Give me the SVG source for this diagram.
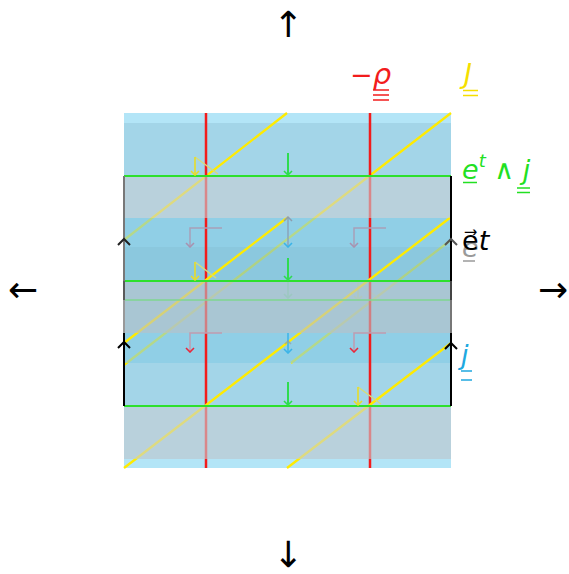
<svg xmlns="http://www.w3.org/2000/svg" width="569" height="574" viewBox="0 0 569 574">
<style>
.lbl{font-family:"DejaVu Sans",sans-serif;font-size:27px}
.it{font-style:italic}
.big{font-family:"DejaVu Sans",sans-serif;font-size:36px;fill:#000}
.red{stroke:#f21c1c;stroke-width:2.5}
.yel{stroke:#ffeb00;stroke-width:2.3}
.grn{stroke:#2de02d;stroke-width:2}
.thin{fill:none;stroke-width:1.5}
.chev{fill:none;stroke-width:2;stroke-linejoin:miter}
</style>
<defs>
<marker id="hG" viewBox="0 0 6 10" refX="5" refY="5" markerWidth="6" markerHeight="10" orient="auto" markerUnits="userSpaceOnUse"><path d="M1,1 L5,5 L1,9" fill="none" stroke="#2fdc50" stroke-width="1.6"/></marker>
<marker id="hY" viewBox="0 0 6 10" refX="5" refY="5" markerWidth="6" markerHeight="10" orient="auto" markerUnits="userSpaceOnUse"><path d="M1,1 L5,5 L1,9" fill="none" stroke="#e8dc28" stroke-width="1.6"/></marker>
<marker id="hP" viewBox="0 0 6 10" refX="5" refY="5" markerWidth="6" markerHeight="10" orient="auto" markerUnits="userSpaceOnUse"><path d="M1,1 L5,5 L1,9" fill="none" stroke="#a892b0" stroke-width="1.6"/></marker>
<marker id="hR" viewBox="0 0 6 10" refX="5" refY="5" markerWidth="6" markerHeight="10" orient="auto" markerUnits="userSpaceOnUse"><path d="M1,1 L5,5 L1,9" fill="none" stroke="#e8283c" stroke-width="1.6"/></marker>
<marker id="hB" viewBox="0 0 6 10" refX="5" refY="5" markerWidth="6" markerHeight="10" orient="auto" markerUnits="userSpaceOnUse"><path d="M1,1 L5,5 L1,9" fill="none" stroke="#3bb4e8" stroke-width="1.6"/></marker>
</defs>
<rect width="569" height="574" fill="#fff"/>
<g id="background">
<rect x="124" y="113" width="327" height="355" fill="#b3e5f7"/>
<rect x="124" y="123" width="327" height="336" fill="#a3d5e8"/>
</g>
<g id="back-layer">
<line class="yel" x1="124" y1="240" x2="287" y2="113"/>
<line class="yel" x1="124" y1="365" x2="451" y2="113"/>
<line class="yel" x1="291" y1="363" x2="451" y2="240"/>
<line x1="288" y1="282" x2="288" y2="298" stroke="#2fdc50" stroke-width="1.6" marker-end="url(#hG)" opacity="0.7"/>
<g opacity="0.7"><path class="thin" d="M358,283 L380,299" stroke="#d6dc7a"/><line x1="358" y1="283" x2="358" y2="300" stroke="#e8dc28" stroke-width="1.6" marker-end="url(#hY)"/></g>
</g>
<rect id="sheet" x="124" y="218" width="327" height="145" fill="#83cbe5" opacity="0.6"/>
<rect x="124" y="247" width="327" height="34" fill="#000" opacity="0.03"/>
<g id="connectors">
<line class="red" x1="206" y1="113" x2="206" y2="468"/>
<line class="red" x1="370" y1="113" x2="370" y2="468"/>
<line class="yel" x1="124" y1="343" x2="288" y2="217"/>
<line class="yel" x1="124" y1="468" x2="451" y2="217"/>
<line class="yel" x1="287" y1="468" x2="451" y2="343"/>
<rect x="124" y="176" width="327" height="42" fill="#c8ced4" opacity="0.6"/>
<rect x="124" y="281" width="327" height="52" fill="#bac0c6" opacity="0.6"/>
<rect x="124" y="406" width="327" height="53" fill="#c8ced4" opacity="0.6"/>
<line x1="124" y1="300" x2="451" y2="300" stroke="#7fd68f" stroke-width="1.5"/>
<line class="grn" x1="124" y1="176" x2="451" y2="176"/>
<line class="grn" x1="124" y1="281" x2="451" y2="281"/>
<line class="grn" x1="124" y1="406" x2="451" y2="406"/>
<path d="M124,176 V281" stroke="#787878" stroke-width="2"/>
<path d="M124,281 V300" stroke="#5a5a5a" stroke-width="2"/>
<path d="M124,300 V333" stroke="#999" stroke-width="2"/>
<path d="M124,333 V406" stroke="#000" stroke-width="2"/>
<path d="M451,176 V281" stroke="#000" stroke-width="2"/>
<path d="M451,281 V300" stroke="#444" stroke-width="2"/>
<path d="M451,300 V333" stroke="#777" stroke-width="2"/>
<path d="M451,333 V406" stroke="#000" stroke-width="2"/>
<line x1="288" y1="153" x2="288" y2="175" stroke="#2fdc50" stroke-width="2" marker-end="url(#hG)"/>
<line x1="288" y1="258" x2="288" y2="280" stroke="#2fdc50" stroke-width="2" marker-end="url(#hG)"/>
<line x1="288" y1="382" x2="288" y2="405" stroke="#2fdc50" stroke-width="2" marker-end="url(#hG)"/>
<line x1="288" y1="218" x2="288" y2="247" stroke="#8aa4ba" stroke-width="1.5" marker-end="url(#hB)"/>
<path class="thin" d="M284,221 L288,217 L292,221" stroke="#8d9cae"/>
<line x1="288" y1="333" x2="288" y2="353" stroke="#3bb4e8" stroke-width="1.5" marker-end="url(#hB)"/>
<path class="thin" d="M285,344 L288,341 L291,344" stroke="#8d9cae" opacity="0.7"/>
<path class="thin" d="M222,228 H190 V247" stroke="#a8a0b8" marker-end="url(#hP)"/>
<path class="thin" d="M386,228 H354 V247" stroke="#a8a0b8" marker-end="url(#hP)"/>
<path class="thin" d="M222,333 H190 V352" stroke="#c09cb0" marker-end="url(#hR)"/>
<path class="thin" d="M386,333 H354 V352" stroke="#c09cb0" marker-end="url(#hR)"/>
<path class="thin" d="M195,157 L218,174" stroke="#d6dc7a"/>
<line x1="195" y1="157" x2="195" y2="175" stroke="#e8dc28" stroke-width="1.6" marker-end="url(#hY)"/>
<path class="thin" d="M195,262 L216,278" stroke="#d6dc7a"/>
<line x1="195" y1="262" x2="195" y2="280" stroke="#e8dc28" stroke-width="1.6" marker-end="url(#hY)"/>
<path class="thin" d="M358,387 L381,404" stroke="#d6dc7a"/>
<line x1="358" y1="387" x2="358" y2="405" stroke="#e8dc28" stroke-width="1.6" marker-end="url(#hY)"/>
<path class="chev" d="M118,245 L124,239 L130,245" stroke="#222"/>
<path class="chev" d="M118,348 L124,342 L130,348" stroke="#000"/>
<path class="chev" d="M445,245 L451,239 L457,245" stroke="#555"/>
<path class="chev" d="M445,349 L451,343 L457,349" stroke="#000"/>
</g>
<g id="label-rho">
<text class="lbl" x="350" y="84" fill="#f21c1c">−<tspan class="it" font-size="29">ρ</tspan></text>
<path d="M373,90 H389 M373,95 H389 M373,100 H389" stroke="#f21c1c" stroke-width="1.5"/>
</g>
<g id="label-J">
<text class="lbl it" x="464" y="83" fill="#f5df00" font-size="25">J</text>
<path d="M463,90.5 H478 M463,95.5 H478" stroke="#f5df00" stroke-width="1.5"/>
</g>
<g id="label-etj">
<text class="lbl" x="462" y="179" fill="#22e022"><tspan class="it">e</tspan><tspan class="it" font-size="18" dy="-12">t</tspan><tspan dy="12"> ∧ </tspan><tspan class="it">j</tspan></text>
<path d="M463,182.5 H477 M517,188 H530 M517,192.5 H530" stroke="#22e022" stroke-width="1.5"/>
</g>
<g id="label-et">
<text class="lbl it" x="462" y="257" fill="#9a9a9a">e</text>
<path d="M463,261 H475" stroke="#9a9a9a" stroke-width="1.5"/>
<text class="lbl" x="462" y="250" fill="#000">e⃗<tspan class="it">t</tspan></text>
</g>
<g id="label-j">
<text class="lbl it" x="461" y="364" fill="#20a8e0">j</text>
<path d="M461,371 H472 M461,380 H472" stroke="#20a8e0" stroke-width="1.5"/>
</g>
<g id="axes">
<text class="big" x="288" y="37" text-anchor="middle">↑</text>
<text class="big" x="288" y="567" text-anchor="middle">↓</text>
<text class="big" x="23" y="302" text-anchor="middle">←</text>
<text class="big" x="553" y="302" text-anchor="middle">→</text>
</g>
</svg>
